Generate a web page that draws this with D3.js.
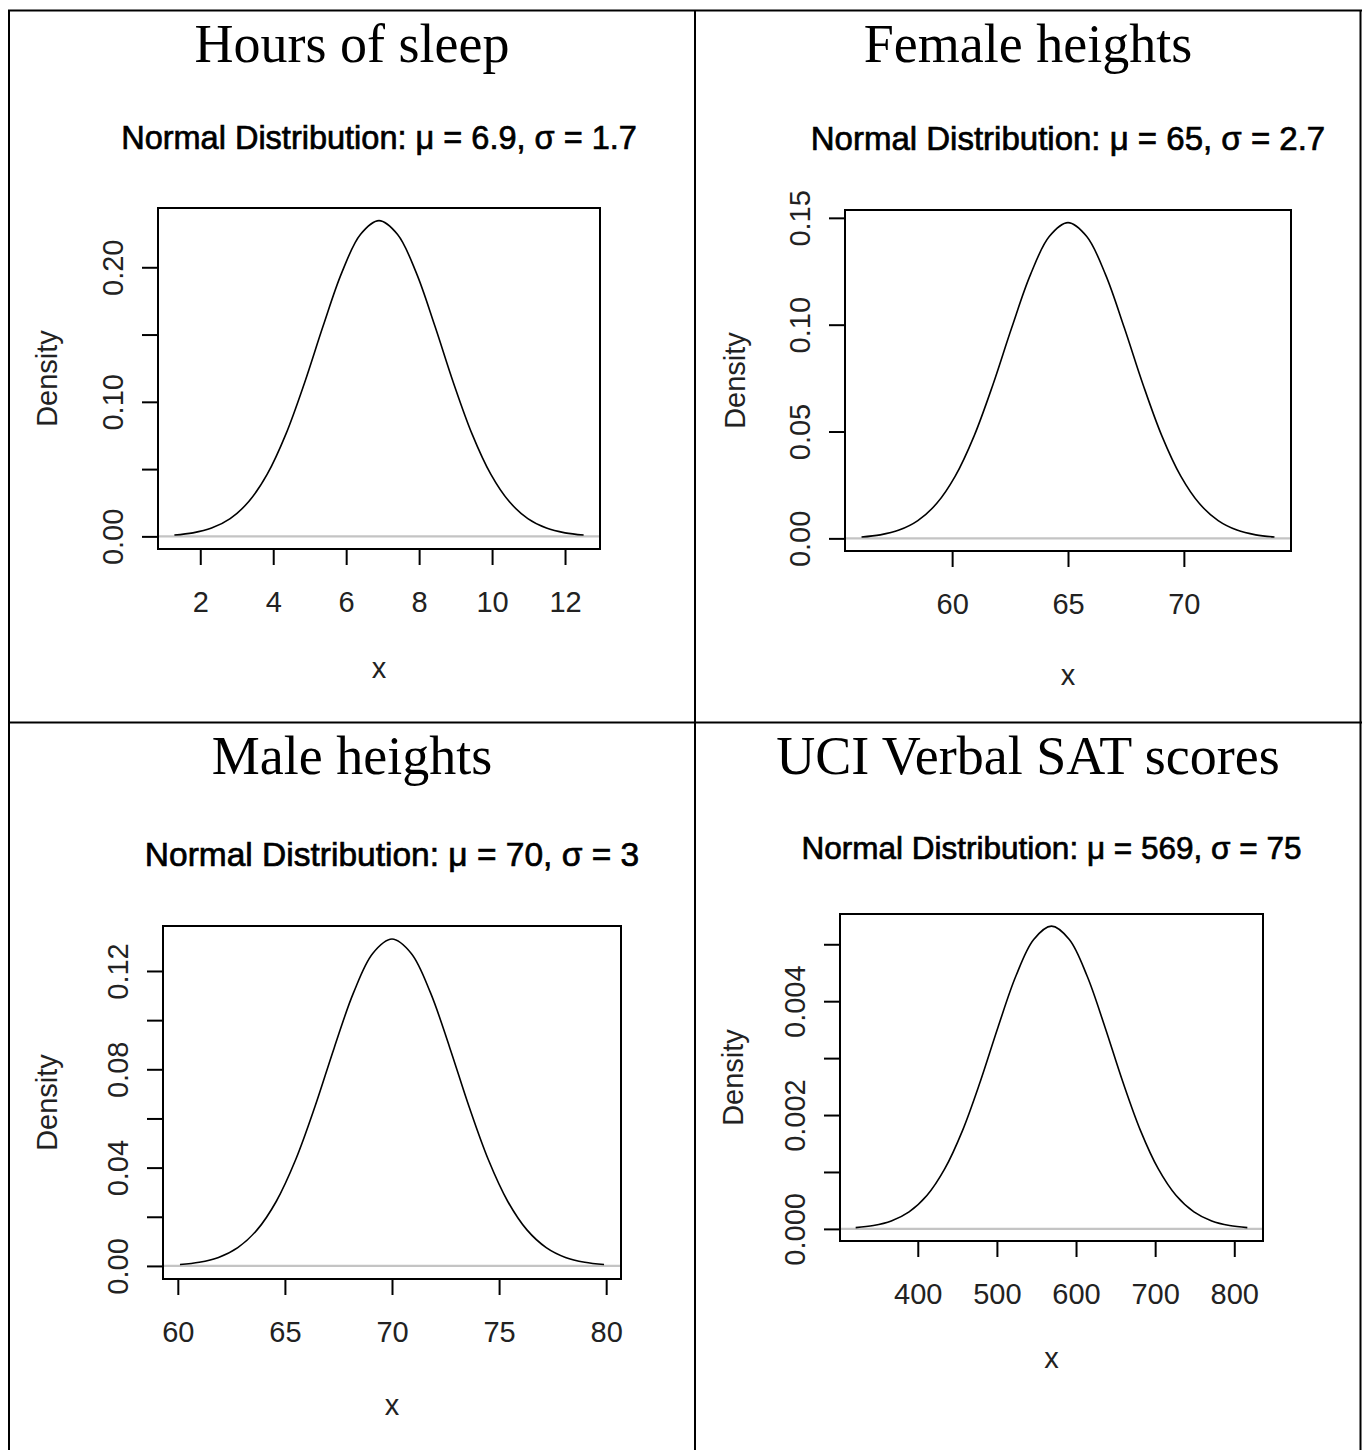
<!DOCTYPE html>
<html>
<head>
<meta charset="utf-8">
<script src="https://cdn.jsdelivr.net/npm/d3@7"></script>
<style>
  html, body { margin: 0; padding: 0; background: #fff; }
  svg { display: block; }
</style>
</head>
<body>
<svg id="chart" width="1362" height="1450"></svg>
<script>
// ---------------- DATA ----------------
const panelTitles = ["Hours of sleep", "Female heights", "Male heights", "UCI Verbal SAT scores"];
const panelMeans  = ["6.9", "65", "70", "569"];
const panelSigmas = ["1.7", "2.7", "3", "75"];

// Hours of sleep curve
const sleepX = [1.29, 1.80, 2.31, 2.82, 3.33, 3.84, 4.35, 4.86, 5.37, 5.88, 6.39, 6.9, 7.41, 7.92, 8.43, 8.94, 9.45, 9.96, 10.47, 10.98, 11.49, 12.0, 12.51];
const sleepY = [0.00101, 0.00261, 0.00613, 0.01317, 0.02587, 0.04644, 0.07619, 0.11423, 0.15652, 0.19601, 0.22435, 0.23467,
                0.22435, 0.19601, 0.15652, 0.11423, 0.07619, 0.04644, 0.02587, 0.01317, 0.00613, 0.00261, 0.00101];
const sleepXTicks = [2, 4, 6, 8, 10, 12];
const sleepYTicks = [0, 0.05, 0.10, 0.15, 0.20];
const sleepYLabels = ["0.00", "", "0.10", "", "0.20"];

// Female heights curve
const femaleX = [56.09, 56.9, 57.71, 58.52, 59.33, 60.14, 60.95, 61.76, 62.57, 63.38, 64.19, 65, 65.81, 66.62, 67.43, 68.24, 69.05, 69.86, 70.67, 71.48, 72.29, 73.1, 73.91];
const femaleY = [0.00064, 0.00164, 0.00386, 0.00829, 0.01629, 0.02924, 0.04797, 0.07192, 0.09855, 0.12342, 0.14125, 0.14776,
                 0.14125, 0.12342, 0.09855, 0.07192, 0.04797, 0.02924, 0.01629, 0.00829, 0.00386, 0.00164, 0.00064];
const femaleXTicks = [60, 65, 70];
const femaleYTicks = [0, 0.05, 0.10, 0.15];
const femaleYLabels = ["0.00", "0.05", "0.10", "0.15"];

// Male heights curve
const maleX = [60.1, 61.0, 61.9, 62.8, 63.7, 64.6, 65.5, 66.4, 67.3, 68.2, 69.1, 70, 70.9, 71.8, 72.7, 73.6, 74.5, 75.4, 76.3, 77.2, 78.1, 79.0, 79.9];
const maleY = [0.00057, 0.00148, 0.00347, 0.00747, 0.01466, 0.02632, 0.04317, 0.06473, 0.08870, 0.11108, 0.12713, 0.13298,
               0.12713, 0.11108, 0.08870, 0.06473, 0.04317, 0.02632, 0.01466, 0.00747, 0.00347, 0.00148, 0.00057];
const maleXTicks = [60, 65, 70, 75, 80];
const maleYTicks = [0, 0.02, 0.04, 0.06, 0.08, 0.10, 0.12];
const maleYLabels = ["0.00", "", "0.04", "", "0.08", "", "0.12"];

// UCI Verbal SAT curve
const satX = [321.5, 344, 366.5, 389, 411.5, 434, 456.5, 479, 501.5, 524, 546.5, 569, 591.5, 614, 636.5, 659, 681.5, 704, 726.5, 749, 771.5, 794, 816.5];
const satY = [0.000023, 0.000059, 0.000139, 0.000299, 0.000586, 0.001053, 0.001727, 0.002589, 0.003548, 0.004443, 0.005085, 0.005319,
              0.005085, 0.004443, 0.003548, 0.002589, 0.001727, 0.001053, 0.000586, 0.000299, 0.000139, 0.000059, 0.000023];
const satXTicks = [400, 500, 600, 700, 800];
const satYTicks = [0, 0.001, 0.002, 0.003, 0.004, 0.005];
const satYLabels = ["0.000", "", "0.002", "", "0.004", ""];

// ---------------- LAYOUT ----------------
const panels = [
  { xs: sleepX,  ys: sleepY,  xt: sleepXTicks,  yt: sleepYTicks,  yl: sleepYLabels,
    box: { l: 158, r: 600, t: 208, b: 549 }, titleX: 352, titleY: 62, subDy: 70, subSize: 32.5, densDx: 111, xlabDy: 119 },
  { xs: femaleX, ys: femaleY, xt: femaleXTicks, yt: femaleYTicks, yl: femaleYLabels,
    box: { l: 845, r: 1291, t: 210, b: 551 }, titleX: 1028, titleY: 62, subDy: 72, subSize: 33, densDx: 110, xlabDy: 124 },
  { xs: maleX,   ys: maleY,   xt: maleXTicks,   yt: maleYTicks,   yl: maleYLabels,
    box: { l: 163, r: 621, t: 926, b: 1279 }, titleX: 352, titleY: 774, subDy: 72, subSize: 33.5, densDx: 116, xlabDy: 126 },
  { xs: satX,    ys: satY,    xt: satXTicks,    yt: satYTicks,    yl: satYLabels,
    box: { l: 840, r: 1263, t: 914, b: 1241 }, titleX: 1028, titleY: 774, subDy: 66, subSize: 31.5, densDx: 107, xlabDy: 117 }
];

const svg = d3.select("#chart");
const sans = "'Liberation Sans', Arial, 'DejaVu Sans', sans-serif";
const serif = "'Liberation Serif', 'Times New Roman', serif";
const labelColor = "#222";

// table grid
const grid = svg.append("g").attr("stroke", "#000").attr("stroke-width", 2).attr("fill", "none");
grid.append("line").attr("x1", 8).attr("x2", 1362).attr("y1", 10.5).attr("y2", 10.5);
grid.append("line").attr("x1", 8).attr("x2", 1362).attr("y1", 722.5).attr("y2", 722.5);
grid.append("line").attr("x1", 9).attr("x2", 9).attr("y1", 10).attr("y2", 1450);
grid.append("line").attr("x1", 695).attr("x2", 695).attr("y1", 10).attr("y2", 1450);
grid.append("line").attr("x1", 1360.5).attr("x2", 1360.5).attr("y1", 10).attr("y2", 1450);

panels.forEach((p, i) => {
  const g = svg.append("g");
  const b = p.box;

  // R-style 4% padded domains
  const xe = d3.extent(p.xs);
  const xpad = (xe[1] - xe[0]) * 0.04;
  const ymax = d3.max(p.ys);
  const ypad = ymax * 0.04;
  const x = d3.scaleLinear().domain([xe[0] - xpad, xe[1] + xpad]).range([b.l, b.r]);
  const y = d3.scaleLinear().domain([-ypad, ymax + ypad]).range([b.b, b.t]);

  // panel title (document heading)
  g.append("text")
    .attr("x", p.titleX).attr("y", p.titleY)
    .attr("text-anchor", "middle")
    .style("font-family", serif).style("font-size", "54px").attr("fill", "#000")
    .text(panelTitles[i]);

  // plot main title
  const mt = g.append("text")
    .attr("x", (b.l + b.r) / 2).attr("y", b.t - p.subDy)
    .attr("text-anchor", "middle").attr("dominant-baseline", "central")
    .style("font-family", sans).style("font-size", p.subSize + "px")
    .attr("fill", "#000").attr("stroke", "#000").attr("stroke-width", 0.7);
  mt.append("tspan").text("Normal Distribution: ");
  mt.append("tspan").text("\u03bc");
  mt.append("tspan").text(" = " + panelMeans[i] + ", ");
  mt.append("tspan").text("\u03c3");
  mt.append("tspan").text(" = " + panelSigmas[i]);

  // x axis
  const xAxis = d3.axisBottom(x).tickValues(p.xt).tickSize(16).tickSizeOuter(0).tickPadding(26)
    .tickFormat(d3.format("d"));
  const gx = g.append("g").attr("transform", `translate(0,${b.b})`).call(xAxis);
  gx.select(".domain").attr("d", `M${x(p.xt[0])},0H${x(p.xt[p.xt.length - 1])}`)
    .attr("stroke", "#000").attr("stroke-width", 2);
  gx.selectAll(".tick line").attr("stroke", "#000").attr("stroke-width", 2);
  gx.selectAll(".tick text")
    .style("font-family", sans).style("font-size", "29px").attr("fill", labelColor);

  // y axis
  const yAxis = d3.axisLeft(y).tickValues(p.yt).tickSize(16).tickSizeOuter(0)
    .tickFormat((d, k) => p.yl[k]);
  const gy = g.append("g").attr("transform", `translate(${b.l},0)`).call(yAxis);
  gy.select(".domain").attr("d", `M0,${y(p.yt[0])}V${y(p.yt[p.yt.length - 1])}`)
    .attr("stroke", "#000").attr("stroke-width", 2);
  gy.selectAll(".tick line").attr("stroke", "#000").attr("stroke-width", 2);
  gy.selectAll(".tick text")
    .attr("x", 0).attr("y", 0).attr("dy", null)
    .attr("text-anchor", "middle").attr("dominant-baseline", "central")
    .attr("transform", "translate(-45,0) rotate(-90)")
    .style("font-family", sans).style("font-size", "29px").attr("fill", labelColor);

  // axis titles
  g.append("text")
    .attr("x", (b.l + b.r) / 2).attr("y", b.b + p.xlabDy)
    .attr("text-anchor", "middle").attr("dominant-baseline", "central")
    .style("font-family", sans).style("font-size", "29px").attr("fill", labelColor)
    .text("x");
  g.append("text")
    .attr("transform", `translate(${b.l - p.densDx},${(b.t + b.b) / 2}) rotate(-90)`)
    .attr("text-anchor", "middle").attr("dominant-baseline", "central")
    .style("font-family", sans).style("font-size", "29px").attr("fill", labelColor)
    .text("Density");

  // zero reference line
  g.append("line")
    .attr("x1", b.l).attr("x2", b.r).attr("y1", y(0)).attr("y2", y(0))
    .attr("stroke", "#c4c4c4").attr("stroke-width", 2.2);

  // density curve
  const pts = p.xs.map((v, k) => [v, p.ys[k]]);
  g.append("path")
    .datum(pts)
    .attr("d", d3.line().x(d => x(d[0])).y(d => y(d[1])).curve(d3.curveCatmullRom))
    .attr("fill", "none").attr("stroke", "#000").attr("stroke-width", 1.6);

  // plot box
  g.append("rect")
    .attr("x", b.l).attr("y", b.t).attr("width", b.r - b.l).attr("height", b.b - b.t)
    .attr("fill", "none").attr("stroke", "#000").attr("stroke-width", 2);
});
</script>
</body>
</html>
